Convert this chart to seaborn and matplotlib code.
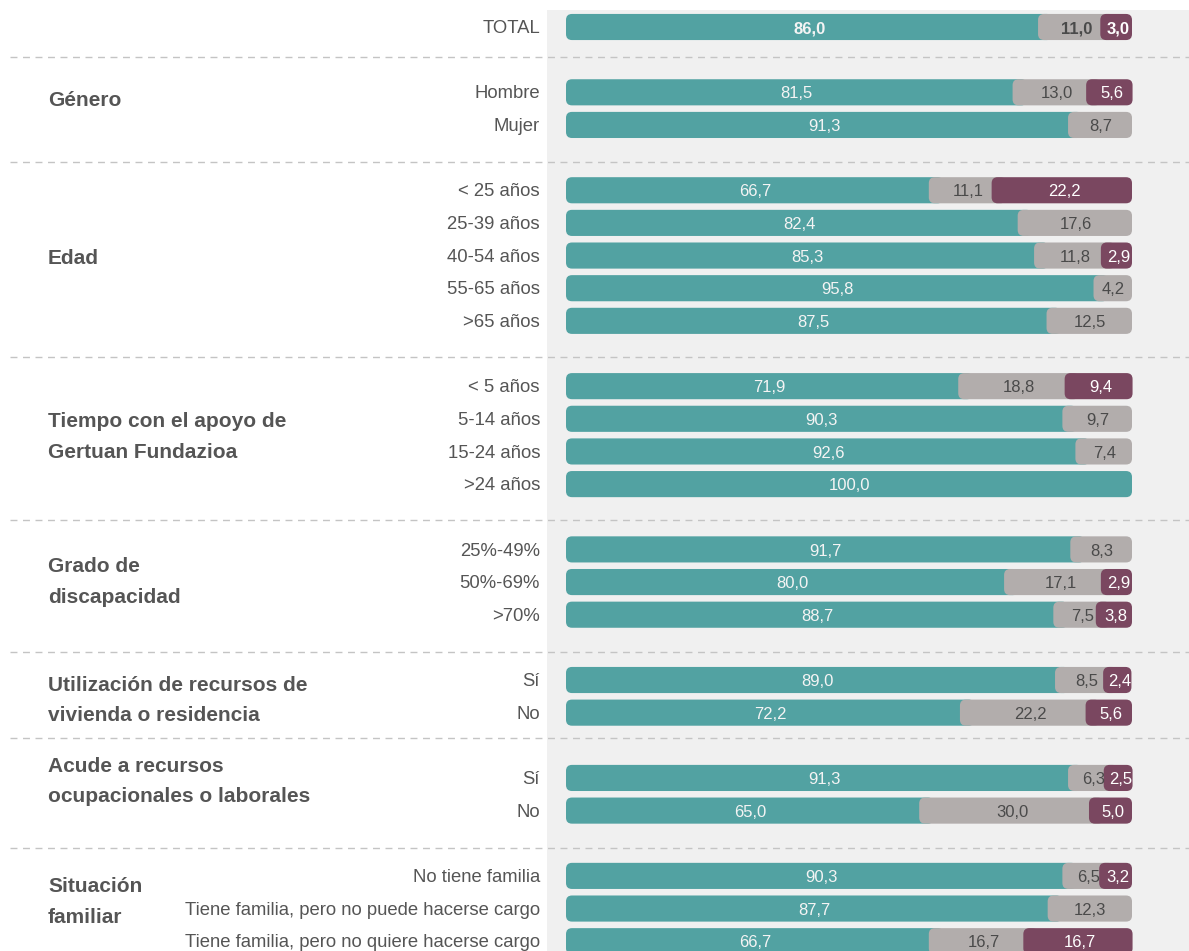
import matplotlib
matplotlib.use("Agg")
import matplotlib.pyplot as plt
import seaborn as sns
import pandas as pd
from matplotlib.patches import FancyBboxPatch
from matplotlib import transforms

# --- data -------------------------------------------------------------
group_names = ["", "Género", "Edad", "Tiempo con el apoyo de\nGertuan Fundazioa",
               "Grado de\ndiscapacidad", "Utilización de recursos de\nvivienda o residencia",
               "Acude a recursos\nocupacionales o laborales", "Situación\nfamiliar"]
group_sizes = [1, 2, 5, 4, 3, 2, 2, 3]

row_labels = ["TOTAL", "Hombre", "Mujer",
              "< 25 años", "25-39 años", "40-54 años", "55-65 años", ">65 años",
              "< 5 años", "5-14 años", "15-24 años", ">24 años",
              "25%-49%", "50%-69%", ">70%",
              "Sí", "No", "Sí", "No",
              "No tiene familia", "Tiene familia, pero no puede hacerse cargo",
              "Tiene familia, pero no quiere hacerse cargo"]
teal_vals = [86.0, 81.5, 91.3, 66.7, 82.4, 85.3, 95.8, 87.5, 71.9, 90.3, 92.6, 100.0,
             91.7, 80.0, 88.7, 89.0, 72.2, 91.3, 65.0, 90.3, 87.7, 66.7]
gray_vals = [11.0, 13.0, 8.7, 11.1, 17.6, 11.8, 4.2, 12.5, 18.8, 9.7, 7.4, 0.0,
             8.3, 17.1, 7.5, 8.5, 22.2, 6.3, 30.0, 6.5, 12.3, 16.7]
purple_vals = [3.0, 5.6, 0.0, 22.2, 0.0, 2.9, 0.0, 0.0, 9.4, 0.0, 0.0, 0.0,
               0.0, 2.9, 3.8, 2.4, 5.6, 2.5, 5.0, 3.2, 0.0, 16.7]

TEAL, GRAY, PURPLE = "#52a2a2", "#b2adac", "#7a4760"
PANEL = "#f0f0f0"
TXT = "#555555"

# row positions: one empty slot between groups
pos = []
k = 0
group_rows = []
for gi, n in enumerate(group_sizes):
    rows = list(range(k, k + n))
    group_rows.append(rows)
    pos += rows
    k += n + 1

df = pd.DataFrame({"label": row_labels, "pos": pos, "teal": teal_vals,
                   "gray": gray_vals, "purple": purple_vals})
df["c1"] = df["teal"]
df["c2"] = df["teal"] + df["gray"]
df["c3"] = df["c2"] + df["purple"]

sns.set_theme(style="white")
plt.rcParams["font.family"] = ["Liberation Sans", "DejaVu Sans"]

W, H = 1189, 951
fig = plt.figure(figsize=(W / 100, H / 100), dpi=100)
x0px, x100px = 566, 1132
pxx = (x100px - x0px) / 100
y0px, rowpx = 27, 32.65
ax_top = 10
ax = fig.add_axes([547 / W, 0, (W - 547) / W, (H - ax_top) / H])
ax.set_facecolor(PANEL)

ASPECT = pxx / rowpx
R = 6 / pxx       # corner radius in x units
OV = 2.6          # overlap of following segment
TY = 0.05         # small downward nudge for text

def rounded(n0, col, start_fn, val_col, z):
    lookup = df.set_index("pos")
    for p in list(ax.patches[n0:]):
        y, h = p.get_y(), p.get_height()
        x1 = p.get_x() + p.get_width()
        r = lookup.loc[int(round(y + h / 2))]
        p.remove()
        if r[val_col] <= 0:
            continue
        xs = start_fn(r)
        ax.add_patch(FancyBboxPatch((xs, y), x1 - xs, h,
                                    boxstyle=f"round,pad=0,rounding_size={R}",
                                    mutation_aspect=ASPECT, fc=col, ec="none", zorder=z))

n0 = len(ax.patches)
sns.barplot(data=df, x="c1", y="pos", orient="h", native_scale=True, color=TEAL,
            width=0.8, errorbar=None, ax=ax)
rounded(n0, TEAL, lambda r: 0.0, "teal", 2)

n0 = len(ax.patches)
sns.barplot(data=df, x="c2", y="pos", orient="h", native_scale=True, color=GRAY,
            width=0.8, errorbar=None, ax=ax)
rounded(n0, GRAY, lambda r: r["c1"] - OV, "gray", 3)

n0 = len(ax.patches)
sns.barplot(data=df, x="c3", y="pos", orient="h", native_scale=True, color=PURPLE,
            width=0.8, errorbar=None, ax=ax)
rounded(n0, PURPLE, lambda r: r["c2"] - OV, "purple", 4)

fmt = lambda v: f"{v:.1f}".replace(".", ",")
VS = 12
for _, r in df.iterrows():
    bold = "bold" if r["label"] == "TOTAL" else "normal"
    y = r["pos"] + TY
    ax.text(r["c1"] / 2, y, fmt(r["teal"]), ha="center", va="center",
            color="#f4f4f4", fontsize=VS, fontweight=bold, zorder=6)
    if r["gray"] > 0:
        ax.text((r["c1"] + r["c2"]) / 2 - 1.2, y, fmt(r["gray"]), ha="center",
                va="center", color="#4a4a4a", fontsize=VS, fontweight=bold, zorder=6)
    if r["purple"] > 0:
        ax.text((r["c2"] + r["c3"]) / 2 - 0.9, y, fmt(r["purple"]), ha="center",
                va="center", color="white", fontsize=VS, fontweight=bold, zorder=6)

ax.set_xlim((547 - x0px) / pxx, (W - x0px) / pxx)
ax.set_ylim((H - y0px) / rowpx, (ax_top - y0px) / rowpx)
ax.set_xticks([])
ax.set_yticks([])
ax.set_xlabel("")
ax.set_ylabel("")
for s in ax.spines.values():
    s.set_visible(False)

# left labels
trans = transforms.blended_transform_factory(fig.transFigure, ax.transData)
for _, r in df.iterrows():
    ax.text(540 / W, r["pos"] + TY, r["label"], transform=trans, ha="right", va="center",
            fontsize=13.3, color=TXT, clip_on=False)

label_dy = [0, -0.25, 0.08, 0.06, 0.0, 0.12, -0.4, -0.2]
for name, rows, dy in zip(group_names, group_rows, label_dy):
    if not name:
        continue
    yc = (rows[0] + rows[-1]) / 2 + dy
    ax.text(48 / W, yc, name, transform=trans, ha="left", va="center",
            fontsize=15, fontweight="bold", color=TXT, linespacing=1.75, clip_on=False)

# dashed separators between groups
sep_dy = [-0.08, 0.13, 0.11, 0.10, 0.14, -0.21, 0.14]
for rows, dy in zip(group_rows[:-1], sep_dy):
    ys = rows[-1] + 1 + dy
    ax.plot([10 / W, 1.0], [ys, ys], transform=trans, color="#c4c4c4", lw=1,
            ls=(0, (5, 4)), clip_on=False, zorder=1)

fig.savefig("out.png", dpi=100)
